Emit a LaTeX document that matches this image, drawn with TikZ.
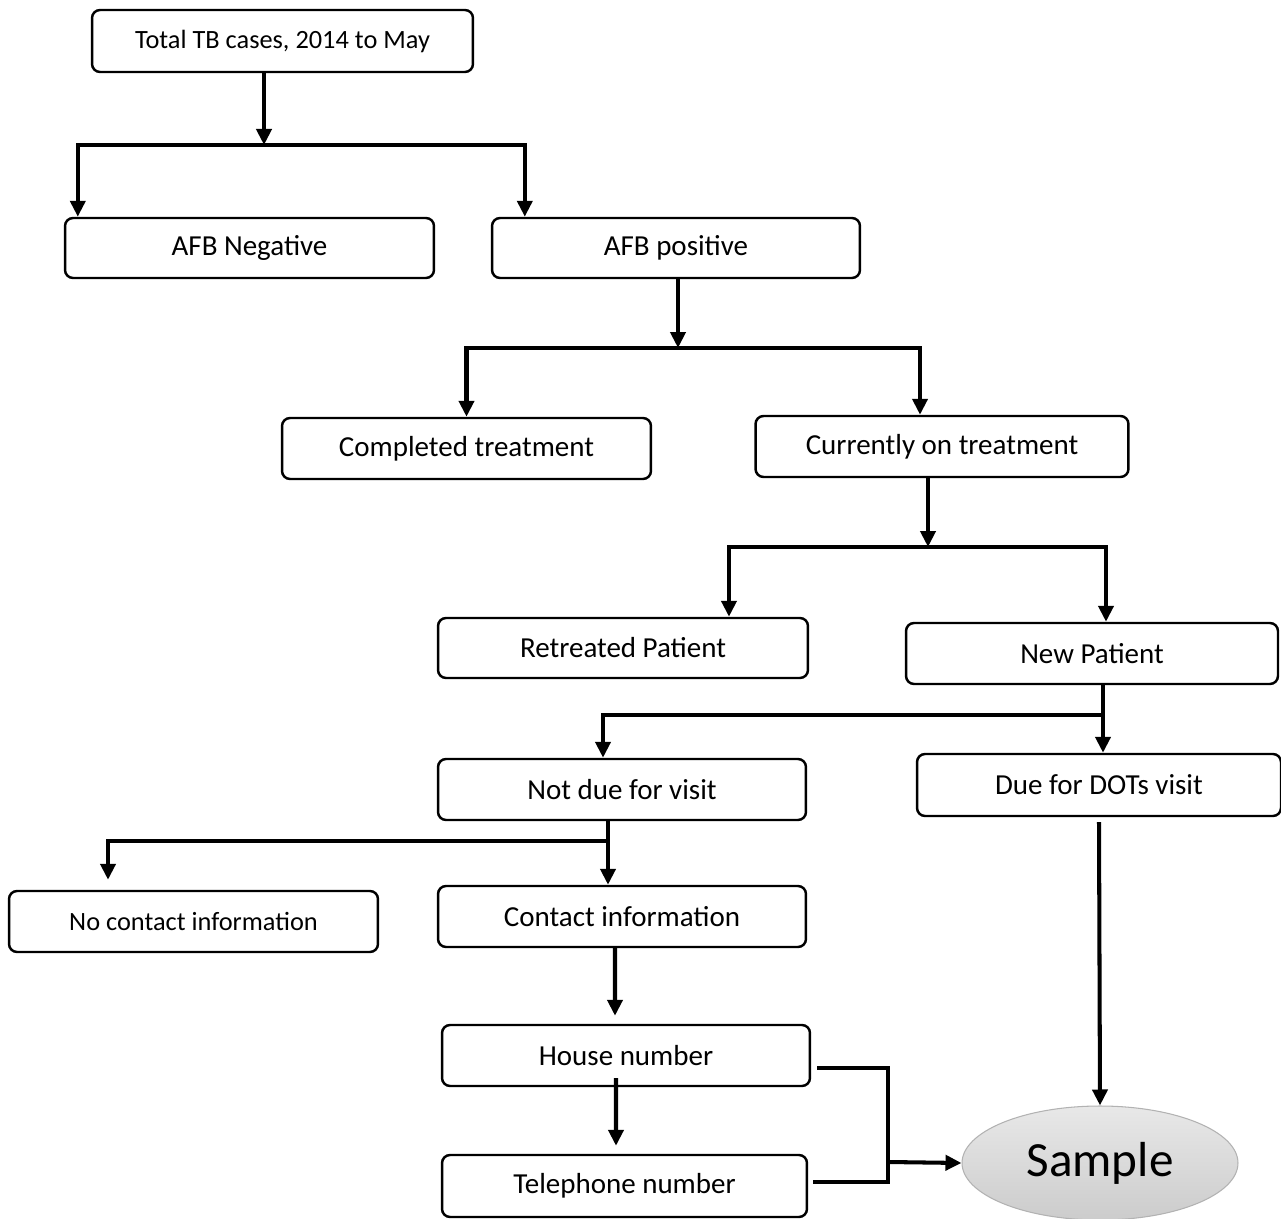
\documentclass[tikz,border=0pt]{standalone}
\usepackage{fontspec}
\setmainfont{Carlito}
\usetikzlibrary{arrows.meta,shapes.geometric}

\tikzset{
  box/.style={draw, line width=1.4pt, rounded corners=0.16cm, minimum width=7.38cm,
    minimum height=1.22cm, inner sep=0pt, font=\fontsize{16.5}{20}\selectfont},
  smallbox/.style={box, font=\fontsize{15}{18}\selectfont},
  line/.style={line width=2.3pt},
  arr/.style={line, -{Triangle[width=0.3cm,length=0.32cm]}}
}

\begin{document}
\begin{tikzpicture}[x=0.02cm, y=-0.02cm]
  \useasboundingbox (0,0) rectangle (1281,1219);

  \node (total) [smallbox, minimum width=7.62cm, minimum height=1.24cm] at (282.5,41) {Total TB cases, 2014 to May};
  \node (neg) [box, minimum height=1.2cm] at (249.5,248) {AFB Negative};
  \node (pos) [box, minimum width=7.36cm, minimum height=1.2cm] at (676,248) {AFB positive};
  \node (done) [box] at (466.5,448.5) {Completed treatment};
  \node (curr) [box, minimum width=7.46cm] at (942,446.5) {Currently on treatment};
  \node (retr) [box, minimum width=7.4cm, minimum height=1.2cm] at (623,648) {Retreated Patient};
  \node (newp) [box, minimum width=7.44cm] at (1092,653.5) {New Patient};
  \node (notdue) [box, minimum width=7.36cm] at (622,789.5) {Not due for visit};
  \node (due) [box, minimum width=7.28cm, minimum height=1.24cm] at (1099,785) {Due for DOTs visit};
  \node (nocont) [smallbox] at (193.5,921.5) {No contact information};
  \node (cont) [box, minimum width=7.36cm] at (622,916.5) {Contact information};
  \node (house) [box, minimum width=7.36cm] at (626,1055.5) {House number};
  \node (tel) [box, minimum width=7.3cm, minimum height=1.24cm] at (624.5,1186) {Telephone number};
  \node (sample) [ellipse, draw=gray!60, line width=0.6pt, top color=gray!18, bottom color=gray!40,
    minimum width=5.52cm, minimum height=2.28cm, font=\fontsize{28}{32}\selectfont] at (1100,1163) {Sample};

  % branch points
  \coordinate (j1) at (264,145);
  \coordinate (j2) at (678,348);
  \coordinate (j3) at (928,547);
  \coordinate (j4) at (1103,715);
  \coordinate (j5) at (608,841);
  \coordinate (j6) at (888,1162);

  \draw[arr] (total.south -| j1) -- (j1);
  \draw[arr] (j1) -| ([xshift=0.28cm]neg.north west);
  \draw[arr] (j1) -| ([xshift=0.68cm]pos.north west);

  \draw[arr] (pos.south -| j2) -- (j2);
  \draw[arr] (j2) -| (done.north);
  \draw[arr] (j2) -| ([xshift=-0.44cm]curr.north);

  \draw[arr] (curr.south -| j3) -- (j3);
  \draw[arr] (j3) -| ([xshift=2.12cm]retr.north);
  \draw[arr] (j3) -| ([xshift=0.28cm]newp.north);

  \draw[arr] (newp.south -| j4) -- (due.north -| j4);
  \draw[arr] (j4) -| ([xshift=-0.38cm]notdue.north);

  \draw[arr] (notdue.south -| j5) -- (cont.north -| j5);
  \draw[arr] (j5) -| ([xshift=-1.71cm,yshift=0.2cm]nocont.north);

  \draw[arr] ([xshift=-0.14cm]cont.south) -- ([xshift=-0.22cm,yshift=0.16cm]house.north);
  \draw[arr] ([xshift=-0.2cm,yshift=0.18cm]house.south) -- ([xshift=-0.17cm,yshift=0.16cm]tel.north);

  \draw[line] ([xshift=0.12cm,yshift=-0.25cm]house.east) -| (j6) |- ([xshift=0.1cm,yshift=0.08cm]tel.east);
  \draw[arr] (j6) -- (sample.west);
  \draw[arr] ([yshift=-0.1cm]due.south) -- (sample.north);
\end{tikzpicture}
\end{document}
